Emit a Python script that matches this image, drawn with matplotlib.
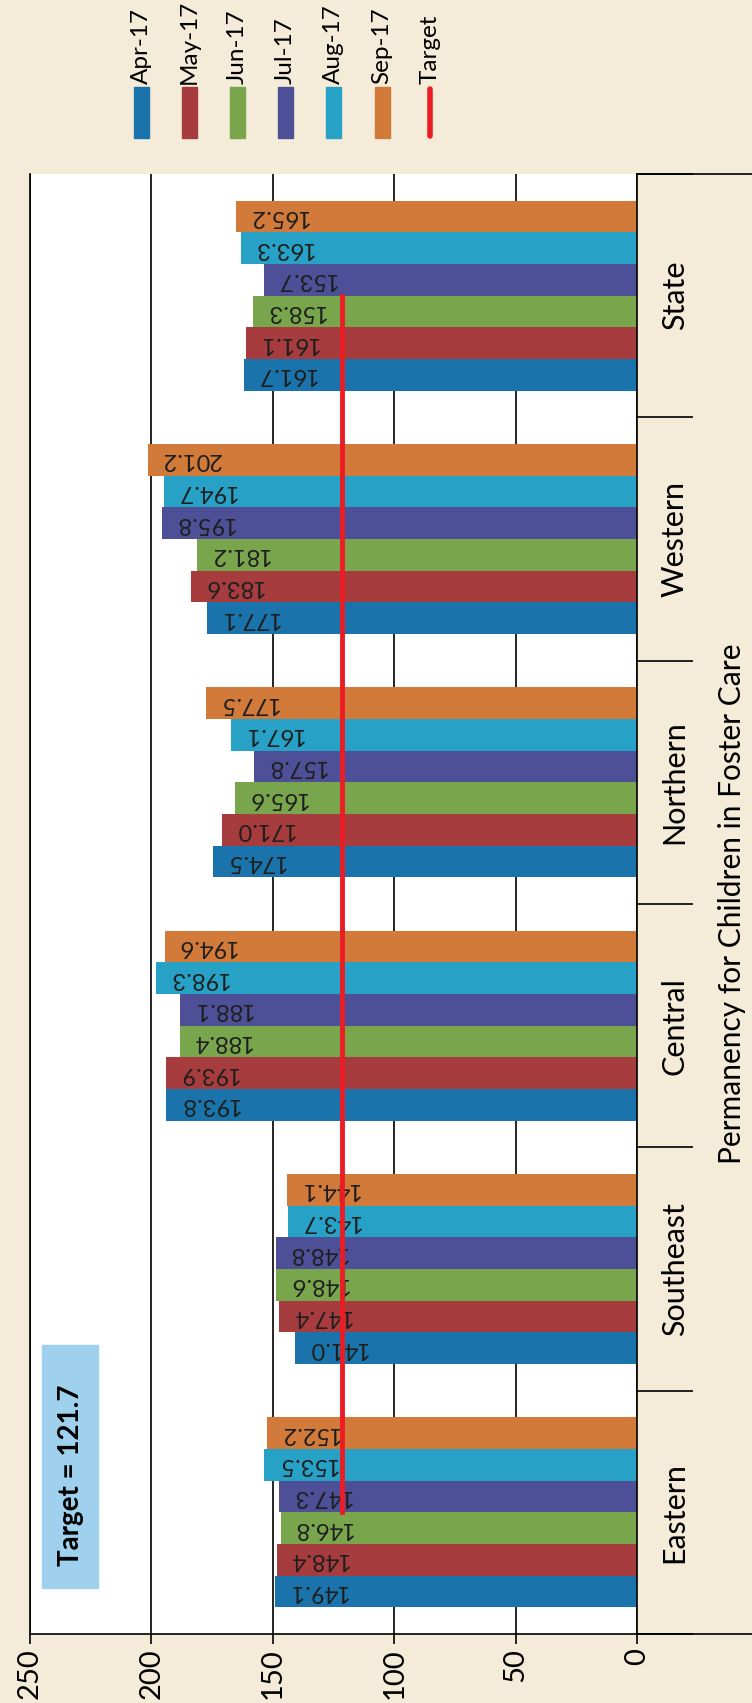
# %%
import numpy as np
import matplotlib.pyplot as plt
from matplotlib.patches import Rectangle
from matplotlib.lines import Line2D

regions = ['Eastern', 'Southeast', 'Central', 'Northern', 'Western', 'State']
months = ['Apr-17', 'May-17', 'Jun-17', 'Jul-17', 'Aug-17', 'Sep-17']
apr = [149.1, 141.0, 193.8, 174.5, 177.1, 161.7]
may = [148.4, 147.4, 193.9, 171.0, 183.6, 161.1]
jun = [146.8, 148.6, 188.4, 165.6, 181.2, 158.3]
jul = [147.3, 148.8, 188.1, 157.8, 195.8, 153.7]
aug = [153.5, 143.7, 198.3, 167.1, 194.7, 163.3]
sep = [152.2, 144.1, 194.6, 177.5, 201.2, 165.2]
target = 121.7
value_ticks = [0, 50, 100, 150, 200, 250]

colors = ['#1a74ab', '#a63c3e', '#79a64c', '#4d4f97', '#27a2c6', '#d27a3a']
red = '#ec1c24'
bg = '#f4ecd8'
W, H = 752, 1703

plt.rcParams['font.family'] = ['Lato', 'DejaVu Sans']

# %%
# the page is scanned sideways, so the columns run right to left
fig = plt.figure(figsize=(W / 100, H / 100), dpi=100, facecolor=bg)
ax = fig.add_axes([30 / W, 1 - 1634 / H, 607 / W, 1460 / H])

y = np.arange(len(regions))
h = 0.13
for i, vals in enumerate([apr, may, jun, jul, aug, sep]):
    pos = y + (i - 2.5) * h
    ax.barh(pos, vals, height=h, color=colors[i], zorder=2)
    for p, v in zip(pos, vals):
        ax.annotate(f'{v:.1f}', (v, p), xytext=(9, 0), textcoords='offset points',
                    rotation=180, ha='left', va='center', fontsize=17, color='#1e1e1e', zorder=3)

# target runs through the middle of each group
ax.plot([target] * len(y), y, color=red, lw=3.5, zorder=4)

ax.set_xlim(250, 0)
ax.set_ylim(-0.5, 5.5)
ax.set_xticks(value_ticks)
ax.set_xticklabels([str(t) for t in value_ticks], rotation=90, fontsize=21)
ax.tick_params(axis='x', length=7, width=1.2, pad=3)
ax.grid(axis='x', color='black', lw=1.2)
ax.set_axisbelow(True)

ax.yaxis.tick_right()
ax.set_yticks(np.arange(-0.5, 6, 1))
ax.set_yticklabels([])
ax.tick_params(axis='y', which='major', length=40, width=1.2)
ax.set_yticks(y, minor=True)
ax.set_yticklabels(regions, minor=True, rotation=90, va='center', fontsize=22)
ax.tick_params(axis='y', which='minor', length=0, pad=17)

ax.spines['top'].set_visible(False)
for s in ['left', 'right', 'bottom']:
    ax.spines[s].set_linewidth(1.2)

# frame pieces running out to the page edge
fig.add_artist(Line2D([637 / W, 1], [1 - 1634 / H] * 2, color='black', lw=1.2))
fig.add_artist(Line2D([637 / W, 1], [1 - 174 / H] * 2, color='black', lw=1.2))

fig.text(732 / W, 1 - 904 / H, 'Permanency for Children in Foster Care',
         rotation=90, ha='center', va='center', fontsize=21.5)

# %%
fig.add_artist(Rectangle((42 / W, 1 - 1588 / H), 56 / W, 243 / H,
                         transform=fig.transFigure, color='#9fd0ee'))
fig.text(71 / W, 1 - 1475 / H, 'Target = 121.7', rotation=90, ha='center', va='center',
         fontsize=20, fontweight='bold')

# legend drawn by hand, rotated with the page
for i, m in enumerate(months + ['Target']):
    x = (141 + 48.2 * i) / W
    if m == 'Target':
        fig.add_artist(Line2D([x, x], [1 - 136 / H, 1 - 89 / H], color=red, lw=4,
                              solid_capstyle='round'))
    else:
        fig.add_artist(Rectangle((x - 7.5 / W, 1 - 138 / H), 15 / W, 51 / H,
                                 transform=fig.transFigure, color=colors[i]))
    fig.text(x, 1 - 84 / H, m, rotation=90, ha='center', va='bottom', fontsize=17.5)

fig.savefig('out.png', dpi=100, facecolor=bg)
